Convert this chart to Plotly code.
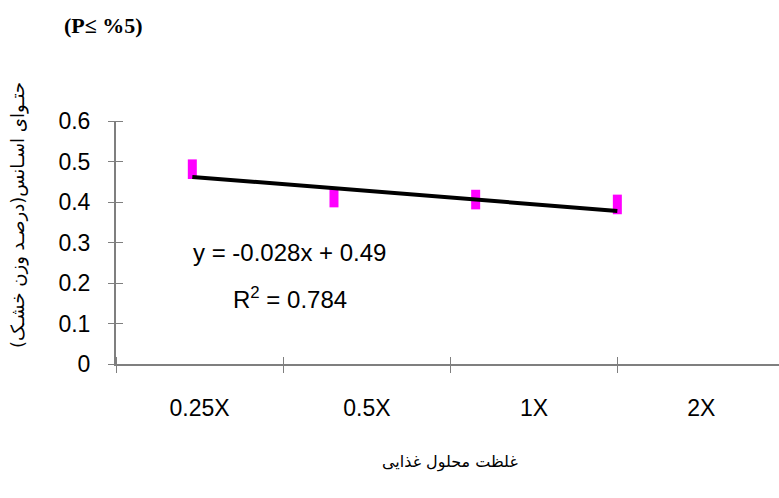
import plotly.graph_objects as go

# Nutrient solution strength levels and measured essential-oil content
categories = ["0.25X", "0.5X", "1X", "2X"]
level_index = [1, 2, 3, 4]
oil_content = [0.481, 0.411, 0.406, 0.394]

# Linear trend reported on the chart
slope = -0.028
intercept = 0.49
equation_text = "y = -0.028x + 0.49"
r2_text = "R<sup>2</sup> = 0.784"

y_ticks = [0, 0.1, 0.2, 0.3, 0.4, 0.5, 0.6]

trend_y = [slope * x + intercept for x in level_index]

AXIS_GREY = "#7f7f7f"
TICK_FONT = dict(family="Liberation Sans, Arial, sans-serif", size=23, color="black")
PLOT_W = 779 - 116
PLOT_H = 364 - 121

fig = go.Figure()

# invisible traces that register the categories on the label / tick axes
fig.add_trace(go.Scatter(x=categories, y=[0] * len(categories), mode="markers",
                         marker=dict(opacity=0), xaxis="x", yaxis="y",
                         showlegend=False, hoverinfo="skip"))
fig.add_trace(go.Scatter(x=categories, y=[0] * len(categories), mode="markers",
                         marker=dict(opacity=0), xaxis="x3", yaxis="y3",
                         showlegend=False, hoverinfo="skip"))

# measured points (tall magenta rectangles)
fig.add_trace(go.Scatter(
    x=level_index, y=oil_content, mode="markers", xaxis="x2", yaxis="y",
    marker=dict(symbol="line-ns-open", size=14, color="#ff00ff",
                line=dict(color="#ff00ff", width=9)),
    showlegend=False,
))

# fitted line
fig.add_trace(go.Scatter(
    x=level_index, y=trend_y, mode="lines", xaxis="x2", yaxis="y",
    line=dict(color="black", width=4), showlegend=False,
))

fig.update_layout(
    width=779, height=498,
    margin=dict(l=116, r=0, t=121, b=134),
    paper_bgcolor="white", plot_bgcolor="white",
    showlegend=False,
    xaxis=dict(
        type="category", categoryorder="array", categoryarray=categories,
        range=[-0.5, 3.464], tickson="boundaries", ticks="",
        showline=True, linecolor=AXIS_GREY, linewidth=2,
        showgrid=False, zeroline=False, tickfont=TICK_FONT,
        ticklabelstandoff=22,
    ),
    # crossing tick marks: an axis shifted up by half a tick, ticks pointing down
    xaxis3=dict(
        type="category", categoryorder="array", categoryarray=categories,
        range=[-0.5, 3.464], tickson="boundaries", overlaying="x",
        anchor="free", position=8 / PLOT_H, side="bottom",
        ticks="outside", ticklen=16, tickcolor=AXIS_GREY, tickwidth=1.3,
        showline=False, showgrid=False, zeroline=False, showticklabels=False,
    ),
    xaxis2=dict(
        range=[0.4614, 5.141], overlaying="x", visible=False,
    ),
    yaxis=dict(
        range=[0, 0.6], tickvals=y_ticks, ticktext=[f"{v:g}" for v in y_ticks],
        ticks="", showline=True, linecolor=AXIS_GREY, linewidth=2,
        showgrid=False, zeroline=False, tickfont=TICK_FONT,
        ticklabelstandoff=19,
    ),
    yaxis3=dict(
        range=[0, 0.6], tickvals=y_ticks, overlaying="y",
        anchor="free", position=7 / PLOT_W, side="left",
        ticks="outside", ticklen=15, tickcolor=AXIS_GREY, tickwidth=1.3,
        showline=False, showgrid=False, zeroline=False, showticklabels=False,
    ),
)

annotations = [
    dict(text=equation_text, x=0.261, y=0.457, xref="paper", yref="paper",
         showarrow=False, xanchor="center", yanchor="middle",
         font=dict(family="Liberation Sans, Arial, sans-serif", size=24, color="black")),
    dict(text=r2_text, x=0.263, y=0.272, xref="paper", yref="paper",
         showarrow=False, xanchor="center", yanchor="middle",
         font=dict(family="Liberation Sans, Arial, sans-serif", size=24, color="black")),
    dict(text="<b>(P≤ %5)</b>", x=-0.0814, y=1.391, xref="paper", yref="paper",
         showarrow=False, xanchor="left", yanchor="middle",
         font=dict(family="Liberation Serif, Times New Roman, serif", size=22, color="black")),
    dict(text="حتـوای اسـانس(درصـد وزن خشـک)", x=-0.1478, y=0.613,
         xref="paper", yref="paper", textangle=-90,
         showarrow=False, xanchor="center", yanchor="middle",
         font=dict(family="DejaVu Sans, sans-serif", size=18, color="black")),
    dict(text="غلظت محلول غذایی", x=0.504, y=-0.403, xref="paper", yref="paper",
         showarrow=False, xanchor="center", yanchor="middle",
         font=dict(family="DejaVu Sans, sans-serif", size=16, color="black")),
]
fig.update_layout(annotations=annotations)

fig.write_html("out.html")
